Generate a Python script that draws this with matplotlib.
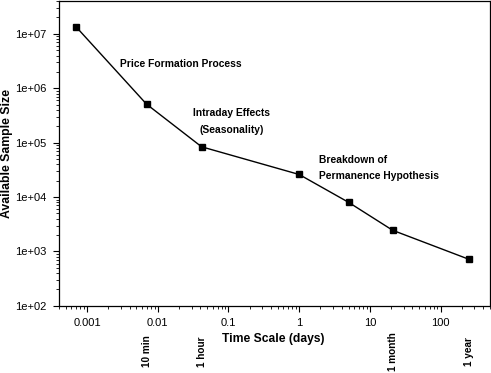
import matplotlib
matplotlib.use('Agg')
import matplotlib.pyplot as plt
from matplotlib.ticker import FuncFormatter, LogLocator
import matplotlib.transforms as mtransforms

plt.rcParams['font.family'] = ['Liberation Sans', 'DejaVu Sans']

# time scale in days and sample sizes
time_days = [1/1440, 10/1440, 1/24, 1, 5, 21, 250]
sample_size = [1.36e7, 5.1e5, 8.4e4, 2.6e4, 8.0e3, 2.45e3, 7.2e2]

# extra labels under the axis
mark_x = [10/1440, 1/24, 21, 250]
mark_labels = ['10 min', '1 hour', '1 month', '1 year']

fig = plt.figure(figsize=(4.91, 3.73), dpi=100)
ax = fig.add_axes([0.120, 0.180, 0.878, 0.817])

ax.plot(time_days, sample_size, color='black', lw=1.0, marker='s', ms=4.5,
        mfc='black', mec='black')

ax.set_xscale('log')
ax.set_yscale('log')
ax.set_xlim(4.0e-4, 500)
ax.set_ylim(1e2, 4e7)

ax.yaxis.set_major_formatter(FuncFormatter(lambda v, p: '%.0e' % v))
ax.xaxis.set_major_formatter(FuncFormatter(lambda v, p: '%g' % v))
ax.xaxis.set_minor_locator(LogLocator(base=10, subs=range(2, 10), numticks=20))
ax.yaxis.set_minor_locator(LogLocator(base=10, subs=range(2, 10), numticks=20))
ax.tick_params(which='major', direction='out', length=4, width=0.8, labelsize=8, pad=5)
ax.tick_params(which='minor', direction='out', length=2.5, width=0.6)
ax.tick_params(top=False, right=False, which='both')
for s in ax.spines.values():
    s.set_linewidth(0.9)

ax.set_ylabel('Available Sample Size', fontsize=8.8, fontweight='bold')
ax.yaxis.set_label_coords(-0.107, 0.5)
ax.text(0.498, -0.108, 'Time Scale (days)', transform=ax.transAxes, ha='center',
        va='center', fontsize=8.7, fontweight='bold')

ax.text(0.283, 0.795, 'Price Formation Process', transform=ax.transAxes,
        ha='center', va='center', fontsize=7.4, fontweight='bold')
ax.text(0.40, 0.605, 'Intraday Effects\n(Seasonality)', transform=ax.transAxes,
        ha='center', va='center', fontsize=7.4, fontweight='bold', linespacing=1.9)
ax.text(0.603, 0.453, 'Breakdown of\nPermanence Hypothesis', transform=ax.transAxes,
        ha='left', va='center', fontsize=7.4, fontweight='bold', linespacing=1.75)

trans = mtransforms.blended_transform_factory(ax.transData, fig.transFigure)
for x, lab in zip(mark_x, mark_labels):
    ax.text(x, 0.058, lab, transform=trans, rotation=90, ha='center', va='center',
            fontsize=7.2, fontweight='bold')

fig.savefig('out.png', dpi=100)
